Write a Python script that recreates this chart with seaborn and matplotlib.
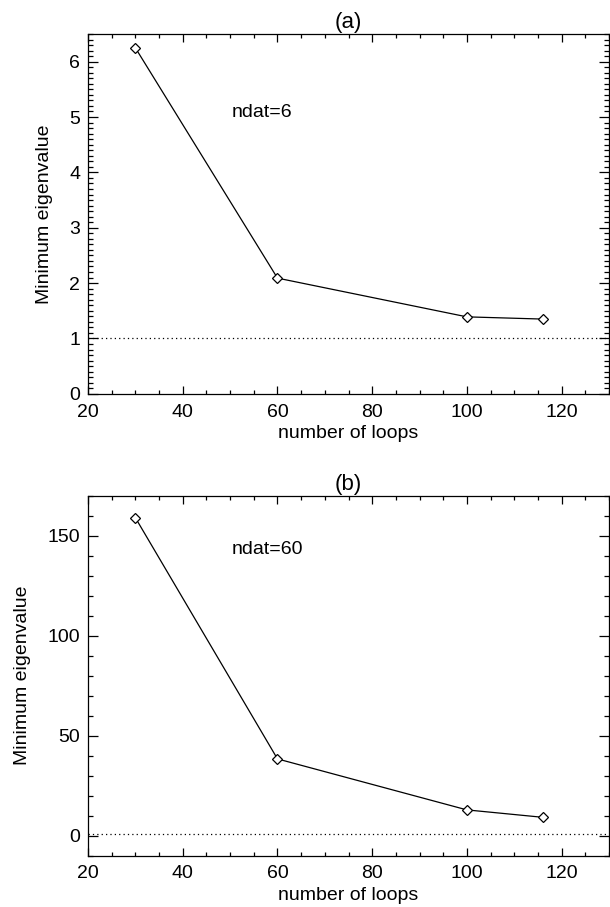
import matplotlib
matplotlib.use("Agg")
import matplotlib.pyplot as plt
import seaborn as sns
import pandas as pd
from matplotlib.ticker import MultipleLocator

# Data
loops = [30, 60, 100, 116]
eig_a = [6.25, 2.09, 1.39, 1.35]
eig_b = [159.0, 38.4, 12.9, 9.2]
titles = ["(a)", "(b)"]
notes = ["ndat=6", "ndat=60"]

sns.set_style("ticks")
plt.rcParams['font.family'] = ['Liberation Sans', 'DejaVu Sans']
plt.rcParams['font.size'] = 14
plt.rcParams['text.color'] = 'black'
plt.rcParams['axes.labelcolor'] = 'black'
plt.rcParams['xtick.color'] = 'black'
plt.rcParams['ytick.color'] = 'black'
plt.rcParams['axes.edgecolor'] = 'black'

fig = plt.figure(figsize=(6.10, 9.07), dpi=100)
W, H = 610, 907
axA = fig.add_axes([88 / W, 1 - 393.8 / H, (609 - 88) / W, (393.8 - 34) / H])
axB = fig.add_axes([88 / W, 1 - 855.7 / H, (609 - 88) / W, (855.7 - 495.7) / H])

panels = [
    (axA, eig_a, (0, 6.5), 1, 0.1, (50.4, 5.08)),
    (axB, eig_b, (-10, 170), 50, 10, (50.4, 143)),
]

for i, (ax, vals, ylim, ymaj, ymin, notepos) in enumerate(panels):
    df = pd.DataFrame({"loops": loops, "eig": vals})
    ax.axhline(1, color="black", linestyle=(0, (1, 2.5)), linewidth=0.9)
    sns.lineplot(data=df, x="loops", y="eig", ax=ax, color="black",
                 linewidth=0.9, marker="D", markersize=5,
                 markerfacecolor="white", markeredgecolor="black",
                 markeredgewidth=0.9)
    ax.set_xlim(20, 130)
    ax.set_ylim(*ylim)
    ax.xaxis.set_major_locator(MultipleLocator(20))
    ax.xaxis.set_minor_locator(MultipleLocator(5))
    ax.yaxis.set_major_locator(MultipleLocator(ymaj))
    ax.yaxis.set_minor_locator(MultipleLocator(ymin))
    ax.tick_params(axis="both", which="both", direction="in",
                   top=True, right=True, width=0.9, colors="black",
                   labelsize=14)
    ax.tick_params(axis="x", which="major", length=5.5, pad=7)
    ax.tick_params(axis="x", which="minor", length=3.2)
    ax.tick_params(axis="y", which="major", length=7.2, pad=5.5)
    ax.tick_params(axis="y", which="minor", length=3.6)
    for s in ax.spines.values():
        s.set_linewidth(0.9)
        s.set_color("black")
    ax.set_xlabel("number of loops", fontsize=14, labelpad=3, color="black")
    ax.set_ylabel("Minimum eigenvalue", fontsize=14, labelpad=12, color="black")
    ax.set_title(titles[i], fontsize=16, pad=4, color="black")
    ax.text(notepos[0], notepos[1], notes[i], fontsize=14,
            ha="left", va="center", color="black")
    ax.grid(False)

fig.savefig("out.png", dpi=100)
